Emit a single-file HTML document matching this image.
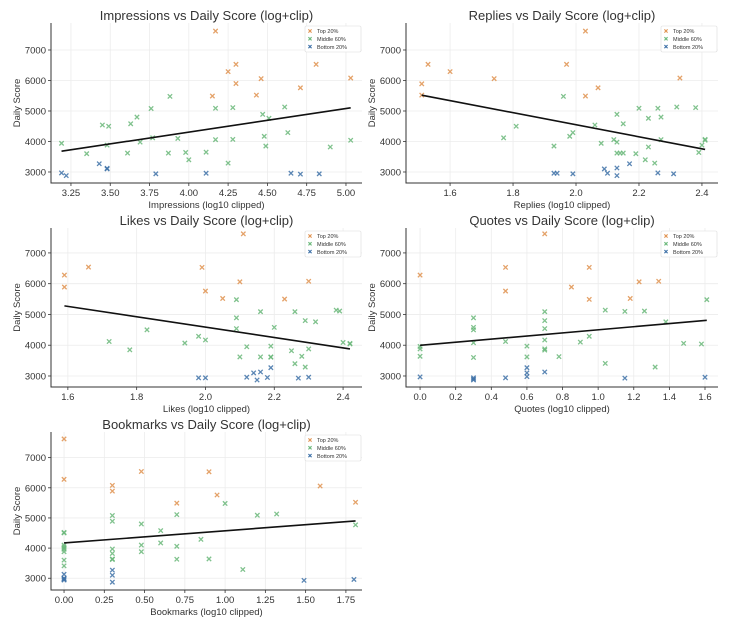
<!DOCTYPE html>
<html><head><meta charset="utf-8"><style>
html,body{margin:0;padding:0;background:#fff;}
svg{display:block;font-family:"Liberation Sans","DejaVu Sans",sans-serif;}
</style></head><body>
<svg id="chart" width="739" height="629" viewBox="0 0 739 629"></svg>
<script>
// ---- data ----
const categories = ["Top 20%","Middle 60%","Bottom 20%"];
const yTicks = [3000,4000,5000,6000,7000];

const impTopX=[4.17,4.30,4.25,4.30,4.46,4.81,5.03,4.71,4.43,4.15];
const impTopY=[7620,6530,6290,5900,6060,6530,6080,5760,5520,5490];
const impMidX=[3.19,3.35,3.45,3.49,3.48,3.61,3.63,3.67,3.69,3.76,3.77,3.88,3.87,3.93,3.98,4.00,4.11,4.17,4.17,4.25,4.28,4.28,4.47,4.48,4.49,4.51,4.61,4.63,4.90,5.03];
const impMidY=[3940,3600,4540,4500,3880,3620,4580,4800,3980,5080,4120,5480,3620,4100,3640,3400,3650,5090,4060,3290,5110,4070,4890,4170,3850,4760,5130,4290,3820,4040];
const impBotX=[3.19,3.22,3.43,3.48,3.48,3.79,4.11,4.65,4.71,4.83];
const impBotY=[2970,2880,3270,3100,3120,2940,2960,2960,2930,2940];

const repTopX=[1.51,1.53,1.60,1.74,1.97,2.03,2.03,2.07,2.33,1.51];
const repTopY=[5890,6530,6290,6060,6530,7620,5490,5760,6080,5520];
const repMidX=[1.77,1.81,1.93,1.96,1.98,1.99,2.06,2.08,2.13,2.12,2.13,2.13,2.14,2.15,2.15,2.19,2.20,2.22,2.23,2.23,2.25,2.26,2.27,2.27,2.32,2.38,2.39,2.40,2.41,2.41];
const repMidY=[4120,4500,3850,5480,4170,4290,4540,3940,4890,4060,3980,3620,3620,3620,4580,3600,5090,3400,4760,3820,3290,5090,4800,4060,5130,5110,3640,3880,4070,4040];
const repBotX=[1.93,1.94,1.99,2.09,2.10,2.13,2.13,2.17,2.26,2.31];
const repBotY=[2960,2960,2940,3100,2960,2880,3130,3270,2970,2940];

const likTopX=[1.59,1.59,1.66,1.99,2.00,2.05,2.10,2.11,2.23,2.30];
const likTopY=[6280,5890,6540,6530,5760,5520,6060,7620,5500,6080];
const likMidX=[1.72,1.78,1.83,1.94,1.98,2.00,2.09,2.09,2.09,2.10,2.12,2.16,2.16,2.19,2.19,2.20,2.25,2.26,2.26,2.28,2.29,2.29,2.30,2.32,2.38,2.39,2.40,2.42,2.42,2.19];
const likMidY=[4120,3850,4500,4070,4290,4170,5480,4890,4540,3620,3950,5090,3620,3970,3620,4580,3820,5090,3400,3640,4800,3290,3880,4760,5140,5110,4090,4060,4040,3610];
const likBotX=[1.98,2.00,2.12,2.14,2.15,2.16,2.18,2.19,2.27,2.30];
const likBotY=[2940,2940,2960,3100,2870,3130,2950,3270,2930,2960];

const quoTopX=[0,0.48,0.48,0.70,0.85,0.95,0.95,1.18,1.23,1.34];
const quoTopY=[6280,6530,5760,7620,5890,6530,5490,5520,6060,6080];
const quoMidX=[0,0,0,0.30,0.30,0.30,0.30,0.30,0.48,0.60,0.60,0.70,0.70,0.70,0.70,0.70,0.70,0.78,0.90,0.95,1.04,1.04,1.15,1.26,1.32,1.38,1.48,1.58,1.61];
const quoMidY=[3960,3880,3640,4890,4580,4500,4080,3600,4120,3970,3620,5090,4800,4540,4170,3880,3840,3630,4100,4290,5140,3410,5100,5110,3290,4760,4060,4040,5480];
const quoBotX=[0,0.30,0.30,0.30,0.48,0.60,0.60,0.60,0.70,1.15,1.60];
const quoBotY=[2970,2940,2900,2870,2940,3270,3100,2980,3130,2930,2960];

const bmkTopX=[0,0,0.30,0.30,0.48,0.70,0.90,0.95,1.59,1.81];
const bmkTopY=[7620,6280,6080,5890,6540,5490,6530,5760,6060,5520];
const bmkMidX=[0,0,0,0,0,0,0,0,0.30,0.30,0.30,0.30,0.30,0.30,0.48,0.48,0.48,0.60,0.60,0.70,0.70,0.70,0.85,0.90,1.00,1.11,1.20,1.32,1.81,0];
const bmkMidY=[4520,4500,4100,4040,3960,3880,3600,3410,5080,4890,3970,3820,3640,3620,4800,4100,3880,4580,4170,5110,4060,3630,4290,3640,5480,3290,5090,5130,4770,4000];
const bmkBotX=[0,0,0,0,0.30,0.30,0.30,1.49,1.80,0];
const bmkBotY=[3130,2990,2960,2940,3270,3100,2870,2930,2960,3000];

const impTicks=[3.25,3.5,3.75,4.0,4.25,4.5,4.75,5.0];
const repTicks=[1.6,1.8,2.0,2.2,2.4];
const likTicks=[1.6,1.8,2.0,2.2,2.4];
const quoTicks=[0,0.2,0.4,0.6,0.8,1.0,1.2,1.4,1.6];
const bmkTicks=[0,0.25,0.5,0.75,1.0,1.25,1.5,1.75];

// ---- layout ----
const colors=["#e0924f","#6ab87a","#3f72a8"];
const panels=[
 {name:"impressions",title:"Impressions vs Daily Score (log+clip)",xlabel:"Impressions (log10 clipped)",L:51,R:362,T:23,B:183,x0:3.123,x1:5.102,y0:2639,y1:7885,ticks:impTicks,dec:2,ylx:20,
  s:[[impTopX,impTopY],[impMidX,impMidY],[impBotX,impBotY]]},
 {name:"replies",title:"Replies vs Daily Score (log+clip)",xlabel:"Replies (log10 clipped)",L:406,R:718,T:23,B:183,x0:1.460,x1:2.451,y0:2639,y1:7885,ticks:repTicks,dec:1,ylx:375,
  s:[[repTopX,repTopY],[repMidX,repMidY],[repBotX,repBotY]]},
 {name:"likes",title:"Likes vs Daily Score (log+clip)",xlabel:"Likes (log10 clipped)",L:51,R:362,T:228,B:387,x0:1.551,x1:2.455,y0:2642,y1:7810,ticks:likTicks,dec:1,ylx:20,
  s:[[likTopX,likTopY],[likMidX,likMidY],[likBotX,likBotY]]},
 {name:"quotes",title:"Quotes vs Daily Score (log+clip)",xlabel:"Quotes (log10 clipped)",L:406,R:718,T:228,B:387,x0:-0.079,x1:1.673,y0:2642,y1:7810,ticks:quoTicks,dec:1,ylx:375,
  s:[[quoTopX,quoTopY],[quoMidX,quoMidY],[quoBotX,quoBotY]]},
 {name:"bookmarks",title:"Bookmarks vs Daily Score (log+clip)",xlabel:"Bookmarks (log10 clipped)",L:51,R:362,T:432,B:590,x0:-0.081,x1:1.85,y0:2610,y1:7850,ticks:bmkTicks,dec:2,ylx:20,
  s:[[bmkTopX,bmkTopY],[bmkMidX,bmkMidY],[bmkBotX,bmkBotY]]}
];
const NS="http://www.w3.org/2000/svg";
const svg=document.getElementById("chart");
function mk(tag,attrs,parent,text){const e=document.createElementNS(NS,tag);for(const k in attrs)e.setAttribute(k,attrs[k]);if(text!=null)e.textContent=text;parent.appendChild(e);return e;}

panels.forEach(p=>{
 const g=mk("g",{},svg);
 
 
 const sx=v=>p.L+(v-p.x0)/(p.x1-p.x0)*(p.R-p.L);
 const sy=v=>p.B-(v-p.y0)/(p.y1-p.y0)*(p.B-p.T);
 p.ticks.forEach(t=>{const l=mk("line",{x1:sx(t),x2:sx(t),y1:p.T,y2:p.B,stroke:"#ececec","stroke-width":0.8},g);
  });
 yTicks.forEach(t=>{const l=mk("line",{x1:p.L,x2:p.R,y1:sy(t),y2:sy(t),stroke:"#ececec","stroke-width":0.8},g);
  });
 const ax=mk("path",{d:`M${p.L},${p.T}V${p.B}H${p.R}`,fill:"none",stroke:"#333","stroke-width":1},g);
 
 p.ticks.forEach(t=>{mk("line",{x1:sx(t),x2:sx(t),y1:p.B,y2:p.B+3,stroke:"#333","stroke-width":0.8},g);
  const tx=mk("text",{x:sx(t),y:p.B+13,"font-size":9.5,fill:"#333","text-anchor":"middle"},g,t.toFixed(p.dec));
  });
 yTicks.forEach(t=>{mk("line",{x1:p.L-3,x2:p.L,y1:sy(t),y2:sy(t),stroke:"#333","stroke-width":0.8},g);
  const tx=mk("text",{x:p.L-5,y:sy(t)+3.5,"font-size":9.5,fill:"#333","text-anchor":"end"},g,String(t));
  });
 const tt=mk("text",{x:(p.L+p.R)/2,y:p.T-3,"font-size":13,fill:"#333","text-anchor":"middle"},g,p.title);
 
 const xl=mk("text",{x:(p.L+p.R)/2,y:p.B+25,"font-size":9.5,fill:"#333","text-anchor":"middle"},g,p.xlabel);
 
 const ym=(p.T+p.B)/2;
 const yl=mk("text",{x:p.ylx,y:ym,"font-size":9.5,fill:"#333","text-anchor":"middle",transform:`rotate(-90 ${p.ylx} ${ym})`},g,"Daily Score");
 
 const allX=[],allY=[];
 p.s.forEach((ser,ci)=>{
  ser[0].forEach((xv,i)=>{
   const yv=ser[1][i];allX.push(xv);allY.push(yv);
   const cx=sx(xv),cy=sy(yv),r=2.2;
   const m=mk("path",{d:`M${cx-r},${cy-r}L${cx+r},${cy+r}M${cx-r},${cy+r}L${cx+r},${cy-r}`,stroke:colors[ci],"stroke-width":1.3,opacity:0.85},g);
   
   
  });
 });
 const n=allX.length,mx=allX.reduce((a,b)=>a+b)/n,my=allY.reduce((a,b)=>a+b)/n;
 let sxy=0,sxx=0;for(let i=0;i<n;i++){sxy+=(allX[i]-mx)*(allY[i]-my);sxx+=(allX[i]-mx)**2;}
 const b=sxy/sxx,a=my-b*mx,xa=Math.min(...allX),xb=Math.max(...allX);
 const fl=mk("line",{x1:sx(xa),y1:sy(a+b*xa),x2:sx(xb),y2:sy(a+b*xb),stroke:"#111","stroke-width":1.6},g);
 
 const lx=p.R-57,ly=p.T+3;
 const lg=mk("g",{},g);
 
 mk("rect",{x:lx,y:ly,width:56,height:26,fill:"#fff",stroke:"#ddd","stroke-width":0.6,rx:1.5},lg);
 categories.forEach((c,ci)=>{
  const yy=ly+5+ci*7.8,xx=lx+5,r=1.6;
  const le=mk("g",{},lg);
  
  mk("path",{d:`M${xx-r},${yy-r}L${xx+r},${yy+r}M${xx-r},${yy+r}L${xx+r},${yy-r}`,stroke:colors[ci],"stroke-width":1.1},le);
  mk("text",{x:xx+7,y:yy+2.2,"font-size":5.5,fill:"#333"},le,c);
 });
});
</script>
</body></html>
